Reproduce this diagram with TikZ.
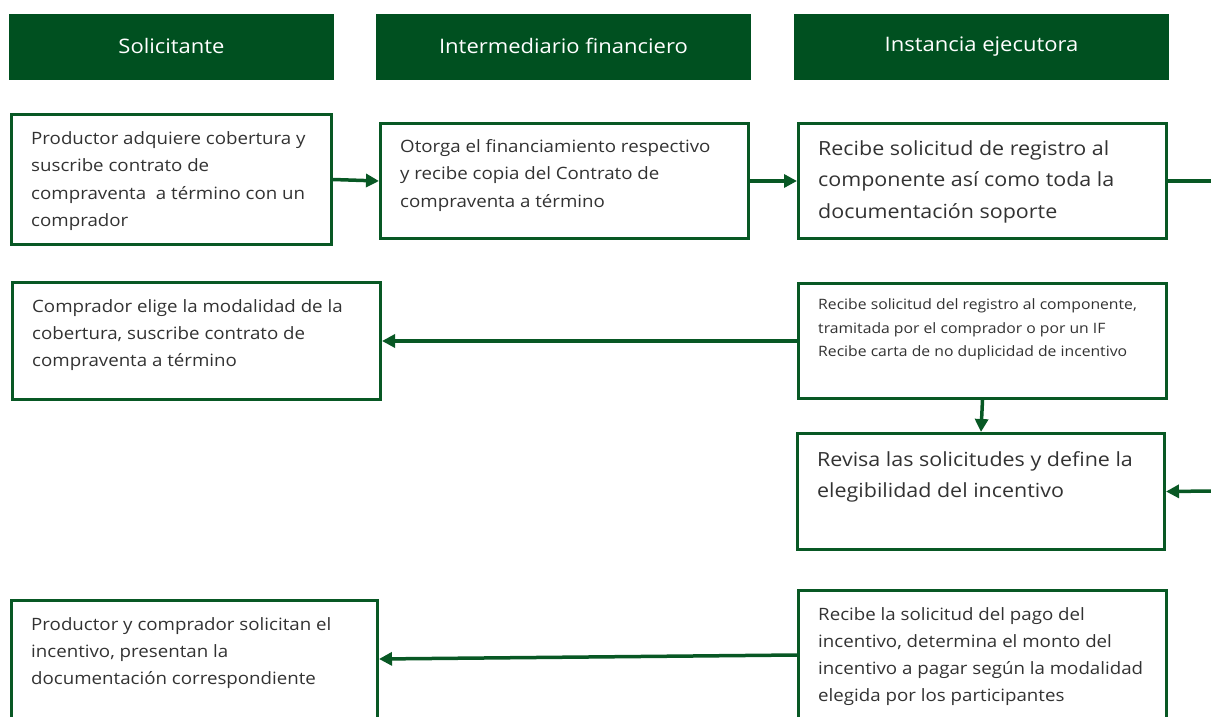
\documentclass[tikz,border=0pt]{standalone}
\usepackage{fontspec}
\setmainfont{Open Sans}[FakeStretch=1.1]
\usetikzlibrary{arrows.meta}
\definecolor{hdr}{RGB}{0,80,32}
\definecolor{grn}{RGB}{8,88,36}
\definecolor{txt}{RGB}{50,50,50}
\begin{document}
\begin{tikzpicture}[x=1pt,y=-1pt,
  header/.style={fill=hdr,draw=none,inner sep=0pt,text=white,font=\fontsize{20}{24}\selectfont},
  box/.style={draw=grn,line width=3pt,inner sep=0pt},
  btext/.style={anchor=north west,inner sep=0pt,align=left,text=txt},
  fm/.style={font=\fontsize{17}{27.2}\selectfont},
  fl/.style={font=\fontsize{19.5}{31.5}\selectfont},
  fs/.style={font=\fontsize{14.3}{23.5}\selectfont},
  arr/.style={draw=grn,line width=3.5pt,-{Triangle[length=13pt,width=13pt]}},
  ln/.style={draw=grn,line width=3.5pt}]
\useasboundingbox (0,0) rectangle (1211,717);
\clip (0,0) rectangle (1211,717);
% headers
\node[header,minimum width=325,minimum height=66] (h1) at (171.5,47) {\raisebox{3pt}{Solicitante}};
\node[header,minimum width=375,minimum height=66] (h2) at (563.5,47) {\raisebox{3pt}{Intermediario financiero}};
\node[header,minimum width=375,minimum height=66] (h3) at (981.5,47) {\raisebox{3pt}{Instancia ejecutora}};
% boxes
\node[box,minimum width=320,minimum height=130] (b1) at (171.5,179.5) {};
\node[box,minimum width=368,minimum height=115] (b2) at (564.5,181) {};
\node[box,minimum width=368,minimum height=115] (b3) at (982.5,181) {};
\node[box,minimum width=368,minimum height=117] (b4) at (196.5,341) {};
\node[box,minimum width=368,minimum height=115] (b5) at (982.5,341) {};
\node[box,minimum width=367,minimum height=116] (b6) at (981,491.5) {};
\node[box,minimum width=366,minimum height=140] (b7) at (194.5,670.5) {};
\node[box,minimum width=368,minimum height=150] (b8) at (982.5,665.5) {};
% texts
\node[btext,fm] (t1) at ([shift={(21,18.5)}]b1.north west) {Productor adquiere cobertura y\\suscribe contrato de\\compraventa\ \ a término con un\\comprador};
\node[btext,fm] (t2) at ([shift={(21,17.5)}]b2.north west) {Otorga el financiamiento respectivo\\y recibe copia del Contrato de\\compraventa a término};
\node[btext,fl] (t3) at ([shift={(21,18)}]b3.north west) {Recibe solicitud de registro al\\componente así como toda la\\documentación soporte};
\node[btext,fm] (t4) at ([shift={(21,18)}]b4.north west) {Comprador elige la modalidad de la\\cobertura, suscribe contrato de\\compraventa a término};
\node[btext,fs] (t5) at ([shift={(21,16.5)}]b5.north west) {Recibe solicitud del registro al componente,\\tramitada por el comprador o por un IF\\Recibe carta de no duplicidad de incentivo};
\node[btext,fl] (t6) at ([shift={(21,19)}]b6.north west) {Revisa las solicitudes y define la\\elegibilidad del incentivo};
\node[btext,fm] (t7) at ([shift={(21,18)}]b7.north west) {Productor y comprador solicitan el\\incentivo, presentan la\\documentación correspondiente};
\node[btext,fm] (t8) at ([shift={(21,18)}]b8.north west) {Recibe la solicitud del pago del\\incentivo, determina el monto del\\incentivo a pagar según la modalidad\\elegida por los participantes};
% connectors
\coordinate (e1) at (1215,181);
\coordinate (e2) at (1215,491);
\coordinate (y1) at (0,655);
\coordinate (y2) at (0,659);
\draw[arr] (b1.east) -- (b2.west);
\draw[arr] (b2.east) -- (b3.west);
\draw[ln] (b3.east) -- (e1);
\draw[arr] (b5.west) -- (b4.east);
\draw[arr] (b5.south) -- (b6.north);
\draw[arr] (e2) -- (b6.east);
\draw[arr] (b8.west |- y1) -- (b7.east |- y2);
\end{tikzpicture}
\end{document}
